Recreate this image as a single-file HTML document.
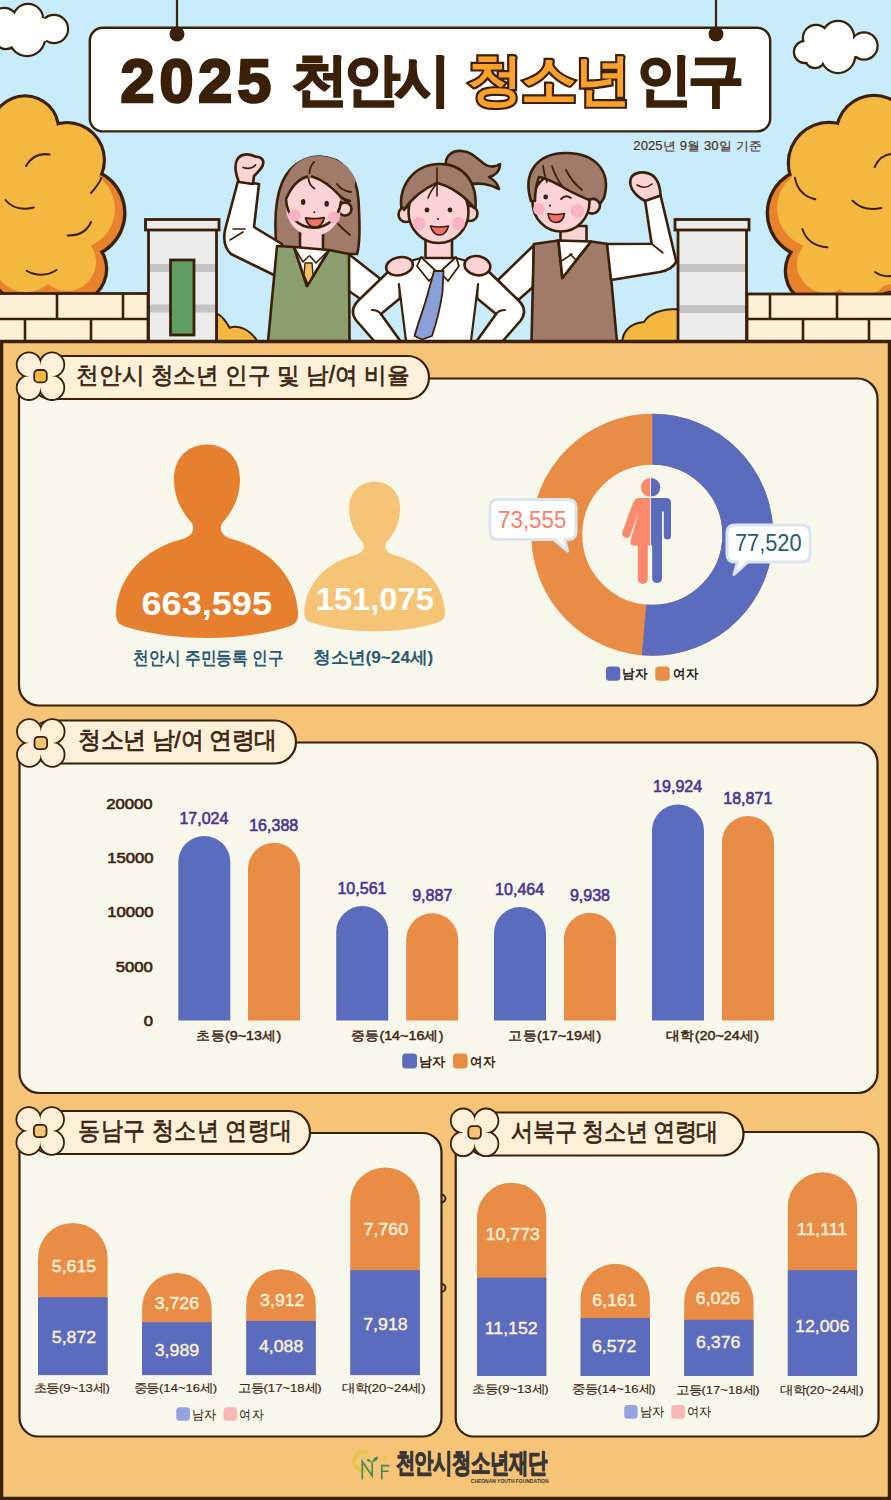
<!DOCTYPE html>
<html><head><meta charset="utf-8">
<style>
*{margin:0;padding:0;box-sizing:border-box}
html,body{width:891px;height:1500px;overflow:hidden;background:#f5c477}
body{position:relative;font-family:"Liberation Sans",sans-serif;color:#3d2410}
svg{position:absolute;left:0;top:0}
.t{position:absolute;white-space:nowrap;line-height:1}
.tab{font-size:22px;color:#3d2410}
.val{font-size:16px;color:#4b3f8f;font-weight:bold}
.cat{font-size:14px;color:#3d2410}
.yl{font-size:14px;color:#3d2410;font-weight:bold;text-align:right;width:60px}
.in{font-size:17px;color:#fdf1da;text-align:center}
.lg{font-size:14px;color:#3d2410}
</style></head><body>
<svg width="891" height="1500" viewBox="0 0 891 1500">
<!-- SKY -->
<rect x="0" y="0" width="891" height="342" fill="#c9ecfd"/>
<!-- clouds -->
<g stroke="#3b2008" stroke-width="4.4" fill="#3b2008">
<circle cx="4" cy="22" r="13"/><circle cx="28" cy="19" r="14"/><circle cx="54" cy="29" r="13"/><circle cx="27" cy="38" r="17"/><circle cx="6" cy="38" r="10"/>
<circle cx="805" cy="52" r="10"/><circle cx="816" cy="38" r="12"/><circle cx="838" cy="37" r="15"/><circle cx="864" cy="46" r="12.5"/><circle cx="838" cy="56" r="16"/><circle cx="815" cy="58" r="9"/>
</g>
<g fill="#ffffff">
<circle cx="4" cy="22" r="13"/><circle cx="28" cy="19" r="14"/><circle cx="54" cy="29" r="13"/><circle cx="27" cy="38" r="17"/><circle cx="6" cy="38" r="10"/><ellipse cx="30" cy="30" rx="24" ry="14"/>
<circle cx="805" cy="52" r="10"/><circle cx="816" cy="38" r="12"/><circle cx="838" cy="37" r="15"/><circle cx="864" cy="46" r="12.5"/><circle cx="838" cy="56" r="16"/><circle cx="815" cy="58" r="9"/><ellipse cx="836" cy="48" rx="26" ry="12"/>
</g>
<!-- left tree -->
<g fill="#3b2008">
<circle cx="25" cy="129.5" r="35.3"/><circle cx="67" cy="160" r="39"/><circle cx="80" cy="213" r="46.5"/><circle cx="73" cy="269" r="35.3"/><circle cx="20" cy="200" r="70"/><circle cx="30" cy="265" r="40"/>
</g>
<g fill="#e8832c">
<circle cx="25" cy="129.5" r="32"/><circle cx="67" cy="160" r="35.7"/><circle cx="80" cy="213" r="43.2"/><circle cx="73" cy="269" r="32"/><circle cx="20" cy="200" r="68"/><circle cx="30" cy="265" r="38"/>
</g>
<g fill="#f4b740">
<circle cx="25" cy="129.5" r="32"/><circle cx="67" cy="160" r="35.7"/><circle cx="75" cy="209" r="40"/><circle cx="67" cy="262" r="29"/><circle cx="18" cy="198" r="66"/><circle cx="26" cy="258" r="34"/>
</g>
<g fill="none" stroke="#3b2008" stroke-width="2" stroke-linecap="round">
<path d="M26 166 Q34 152 49.5 154.5"/><path d="M5.5 200 Q15 212 33.8 207.5"/><path d="M67.6 235.4 Q85 236 91 222"/><path d="M26.7 270.8 Q42 279 56.6 270"/><path d="M91 193 Q99 184 101.4 178"/>
</g>
<!-- right tree -->
<g fill="#3b2008">
<circle cx="874" cy="133" r="39.3"/><circle cx="829" cy="163" r="42.3"/><circle cx="812" cy="213" r="46.3"/><circle cx="820" cy="271" r="36.3"/><circle cx="872" cy="220" r="75"/><circle cx="855" cy="268" r="40"/>
</g>
<g fill="#e8832c">
<circle cx="874" cy="133" r="36"/><circle cx="829" cy="163" r="39"/><circle cx="812" cy="213" r="43"/><circle cx="820" cy="271" r="33"/><circle cx="872" cy="220" r="73"/><circle cx="855" cy="268" r="38"/>
</g>
<g fill="#f4b740">
<circle cx="874" cy="133" r="36"/><circle cx="829" cy="163" r="39"/><circle cx="817" cy="208" r="40"/><circle cx="826" cy="264" r="29"/><circle cx="875" cy="215" r="71"/><circle cx="860" cy="262" r="34"/>
</g>
<g fill="none" stroke="#3b2008" stroke-width="2" stroke-linecap="round">
<path d="M874.6 167 Q880 155 891 154"/><path d="M795 177.8 Q798 195 815.3 199.3"/><path d="M852.5 200.7 Q864 212 881.3 208"/><path d="M802.4 229 Q808 246 827.4 247.3"/><path d="M875.1 272 Q882 277 891 276"/>
</g>
<!-- small bushes -->
<g fill="#f4b740" stroke="#3b2008" stroke-width="2">
<path d="M217 313.6 C222 316 226 321 229.6 327.7 C238 325 249 328 258 342 L217 342 Z"/>
<path d="M622 342 Q624 324 644 322 Q652 309 678 309 L678 342 Z"/>
</g>
<!-- walls -->
<g fill="#fef0d6" stroke="#3b2008" stroke-width="2.8">
<rect x="-2" y="293.5" width="150" height="48"/>
<rect x="747" y="294" width="146" height="48"/>
</g>
<g stroke="#3b2008" stroke-width="2.6">
<line x1="0" y1="319" x2="148" y2="319"/><line x1="57" y1="294" x2="57" y2="319"/><line x1="123" y1="294" x2="123" y2="319"/><line x1="25" y1="319" x2="25" y2="341"/><line x1="91" y1="319" x2="91" y2="341"/>
<line x1="747" y1="319" x2="891" y2="319"/><line x1="770" y1="294" x2="770" y2="319"/><line x1="837" y1="294" x2="837" y2="319"/><line x1="803" y1="319" x2="803" y2="341"/><line x1="869" y1="319" x2="869" y2="341"/>
</g>
<!-- pillars -->
<rect x="148.5" y="228" width="68" height="115" fill="#ececec"/>
<rect x="678" y="228" width="68.5" height="115" fill="#ececec"/>
<g fill="#c4c4c4">
<rect x="148.5" y="264" width="68" height="8"/><rect x="148.5" y="304.5" width="68" height="8"/>
<rect x="678" y="264" width="68.5" height="8"/><rect x="678" y="305" width="68.5" height="8"/>
</g>
<g stroke="#3b2008" stroke-width="2.8" fill="none">
<rect x="148.5" y="228" width="68" height="115"/>
<rect x="678" y="228" width="68.5" height="115"/>
</g>
<g stroke="#3b2008" stroke-width="2.8" fill="#ececec">
<rect x="145.5" y="219.5" width="73.5" height="10.5"/>
<rect x="675" y="219.5" width="74" height="10.5"/>
</g>
<rect x="170.5" y="260" width="23.5" height="75" fill="#5e9e62" stroke="#3b2008" stroke-width="2.8"/>
<!-- characters -->
<g stroke="#3b2008" stroke-width="2.6" stroke-linejoin="round" stroke-linecap="round">
<!-- girl1 arm behind middle -->
<path d="M346 252 L387 284 L362 300 L346 289 Z" fill="#ffffff"/>
<!-- boy arm behind middle -->
<path d="M534 245 L498 280 L516 302 L533 287 Z" fill="#ffffff"/>
<!-- girl1 hair back -->
<path d="M277 254 C273 215 276 185 290 170 C300 159 312 156.5 320 156.5 C341 157 357 173 358.5 200 C360 225 360 245 357 254 Z" fill="#a07b6a"/>
<!-- girl1 raised arm -->
<path d="M238 181 L259 184 L254 227 L282 244 L276 276 L231 254 Q222 246 225 230 Z" fill="#ffffff"/>
<path d="M239 182 C236 176 234 166 237 160 C240 154 248 153 254 156 C257 157.5 261 156 263 160.5 C265 166 258 172 254 176 L253 184 Z" fill="#fdd3d6"/>
<path d="M243 167.5 Q251 170 255.5 165" fill="none" stroke-width="1.8"/>
<path d="M233 229 L245 229 M230 240 L243 232" fill="none" stroke-width="1.6"/>
<!-- girl1 neck, vest -->
<rect x="300" y="232" width="23" height="18" fill="#fdd3d6"/>
<path d="M277 246 L294 247 L307 286 L329 250 L349 254 L349.5 342 L268 342 Z" fill="#8a9e6e"/>
<path d="M294 247 L329 250 L307 286 Z" fill="#ffffff"/>
<path d="M294 247 L303 262 L309 256 M329 250 L316 263 L310 256" fill="none" stroke-width="1.6"/>
<path d="M305 263 L312 263 L313 275 L308 284 L304 275 Z" fill="#f2c060" stroke-width="1.4"/>
<!-- girl1 face -->
<circle cx="345" cy="209" r="6.5" fill="#fdd3d6"/>
<ellipse cx="313.5" cy="207" rx="27.5" ry="29" fill="#fdd3d6" stroke="none"/><path d="M286.1 200 A27.5 29 0 0 0 340.9 202" fill="none"/>
<path d="M284 200 C286 185 296 176 307 176.5 L312 176.5 C325 180 340 190 350 201 L356 180 C348 163 334 156 318 156 C300 156 287 168 283 190 Z" fill="#a07b6a" stroke="none"/>
<path d="M286.5 198 C291 188 298 179 307 176.5 M312 176.5 C323 180 333 188 340 196 C343 199 346 200.5 350 201" fill="none"/>
<path d="M314 162 Q309.5 167 309.5 173 M308.5 178.5 Q309 185 314.5 188.5 M337 184 Q342 191 351 192 M338 224 Q344 230 350 235" fill="none" stroke-width="1.8"/>
<ellipse cx="303.2" cy="202" rx="2.2" ry="3" fill="#3b2008" stroke="none"/><ellipse cx="326.7" cy="203.7" rx="2.2" ry="3" fill="#3b2008" stroke="none"/>
<circle cx="314.3" cy="212.3" r="1" fill="#3b2008" stroke="none"/>
<circle cx="294.6" cy="215.4" r="6" fill="#f9b3c2" stroke="none"/><circle cx="334" cy="217.3" r="6" fill="#f9b3c2" stroke="none"/>
<path d="M305.5 218 Q315 219.5 324.2 217.7 Q322 227.2 315 227.2 Q308 227.2 305.5 218 Z" fill="#f2706c" stroke-width="1.8"/>
<!-- middle girl ponytail + hair -->
<path d="M446 168 C444 156 452 150 462 151 C473 152 478 160 486 165 C491 168 497 166 500 164 C500 172 494 176 489 177 C494 180 498 184 499 189 C490 184 478 182 468 185 Z" fill="#a07b6a"/>
<path d="M402 212 C397 186 414 165 438 164 C463 163 479 182 475 212 Z" fill="#a07b6a"/>
<!-- middle girl shirt -->
<path d="M391 269 L359.4 299.5 Q348 310 356.7 321 L375 342 L401 342 L380.9 313.9 L399.8 298.6 L400 280 Z" fill="#ffffff"/>
<path d="M486 269 L517.6 299.5 Q529 310 520.3 321 L502 342 L476 342 L496.1 313.9 L477.2 298.6 L477 280 Z" fill="#ffffff"/>
<path d="M388 268 L421 257 L456 257 L489 268 L478.1 284.2 L471 342 L406 342 L398.9 284.2 Z" fill="#ffffff" stroke="none"/>
<path d="M398.9 284.2 L406 341 M478.1 284.2 L471 341 M372 310 Q378 310 381 314 M505 310 Q499 310 496 314 M410 261 L423 257.5 M454 257.5 L467 261" fill="none" stroke-width="2.2"/>
<rect x="425.5" y="238" width="26.5" height="20" fill="#fdd3d6"/>
<path d="M421 257 L437 272 L429 281 L417 266 Z M456 257 L440 272 L448 281 L459 266 Z" fill="#ffffff" stroke-width="1.8"/>
<path d="M434 271 L443.5 271 L442.5 292 C440 310 436 324 432 336 L422 339.5 L414.5 336 C419 320 425 305 428.5 291 Z" fill="#8a9fd8" stroke-width="1.8"/>
<!-- middle face -->
<circle cx="406" cy="214.5" r="7.5" fill="#fdd3d6"/><circle cx="470" cy="213.5" r="7.5" fill="#fdd3d6"/>
<ellipse cx="438.5" cy="212" rx="30" ry="31" fill="#fdd3d6"/>
<path d="M404 210 C402 186 418 168 438 167 C458 167 475 184 474 208 C465 196 450 186 437 183 C425 188 412 198 404 210 Z" fill="#a07b6a" stroke="none"/><path d="M474 208 C465 196 450 186 437 183 C425 188 412 198 404 210" fill="none"/>
<path d="M437 168 L437 196 M437 183 Q430 192 428 198" fill="none" stroke-width="1.6"/>
<circle cx="427" cy="210" r="2.4" fill="#3b2008" stroke="none"/><circle cx="450" cy="210" r="2.4" fill="#3b2008" stroke="none"/>
<circle cx="438" cy="219" r="1.1" fill="#3b2008" stroke="none"/>
<circle cx="419" cy="223.6" r="6.5" fill="#f9b3c2" stroke="none"/><circle cx="458.4" cy="223.6" r="6.5" fill="#f9b3c2" stroke="none"/>
<path d="M430.5 226 Q439.5 228 448.5 226 Q446 235 439.5 235 Q433 235 430.5 226 Z" fill="#f2706c" stroke-width="1.6"/>
<!-- boy body -->
<rect x="560.5" y="226" width="26" height="19" fill="#fdd3d6"/>
<path d="M533.8 244 L558.5 240.5 L562.3 278 L591 241.5 L608 244 L617 342 L531.5 342 Z" fill="#a07b6a"/>
<path d="M558.5 240.5 L591 241.5 L562.3 278 Z" fill="#ffffff"/>
<path d="M558 241 L560 262 L572 254 M591 241.5 L576 260 L570 254" fill="none" stroke-width="1.6"/>
<!-- boy raised arm -->
<path d="M607 244 L651.6 243.8 L645 200 L660.6 195.5 L676.3 261.7 Q672 270 660 272 L611 280 Z" fill="#ffffff"/>
<path d="M651.6 243.8 L662.8 252.7" fill="none" stroke-width="1.8"/>
<path d="M645 201 C634 195 628 186 631 178 C634 172 644 171 650 174 C657 177 660 186 660.6 195.5 Z" fill="#fdd3d6"/>
<path d="M637 185 Q645 190 652 184" fill="none" stroke-width="1.6"/>
<!-- boy face -->
<circle cx="592" cy="205.6" r="8" fill="#fdd3d6"/>
<ellipse cx="561" cy="202" rx="28.5" ry="29.5" fill="#fdd3d6"/>
<path d="M531 201 C522 172 538 153 566 153 C594 153 612 170 604 198 L600 204 C597 199 593 198 589 200 C580 196 570 192 561 186 C553 182 546 178 539 177 C536 185 535 192 535 201 Z" fill="#a07b6a"/>
<path d="M543 166 Q544 174 547 182 M552 166 Q555 176 562 186 M566 170 Q572 182 582 190" fill="none" stroke-width="1.8"/>
<circle cx="545.7" cy="197" r="2.4" fill="#3b2008" stroke="none"/>
<path d="M561 199 Q566 194 571 198" fill="none" stroke-width="1.8"/>
<circle cx="550" cy="205.6" r="1.1" fill="#3b2008" stroke="none"/>
<circle cx="539" cy="209" r="6" fill="#f9b3c2" stroke="none"/><circle cx="577.5" cy="211" r="7" fill="#f9b3c2" stroke="none"/>
<path d="M548 213.5 Q556 215.5 564.5 213.5 Q563 222.5 556 222.5 Q549 222.5 548 213.5 Z" fill="#f2706c" stroke-width="1.6"/>
<!-- hands on shoulders -->
<ellipse cx="399.5" cy="266.2" rx="13.5" ry="9" transform="rotate(-12 399.5 266.2)" fill="#fdd3d6"/>
<ellipse cx="477.4" cy="265.7" rx="13" ry="9.5" transform="rotate(10 477.4 265.7)" fill="#fdd3d6"/>
</g>
<!-- banner -->
<g stroke="#3b2008">
<line x1="177" y1="0" x2="177" y2="30" stroke-width="2.2"/>
<line x1="716" y1="0" x2="716" y2="30" stroke-width="2.2"/>
<rect x="89.8" y="27.8" width="680.4" height="103.6" rx="13" fill="#ffffff" stroke-width="2.4"/>
</g>
<circle cx="177" cy="34" r="7.5" fill="#3b2008"/>
<circle cx="716" cy="34" r="7.5" fill="#3b2008"/>

<!-- MAIN ORANGE -->
<rect x="1.5" y="341.5" width="888" height="1157" fill="#f5c477" stroke="#3b2008" stroke-width="3.5"/>
<!-- PANELS -->
<g fill="#f8f7ec" stroke="#3b2008" stroke-width="2.2">
<rect x="19" y="378.5" width="858.5" height="327" rx="20"/>
<rect x="19.5" y="742.5" width="858" height="350.5" rx="20"/>
<rect x="19.5" y="1133" width="422" height="303.5" rx="19"/>
<rect x="455.7" y="1132" width="422.8" height="304.5" rx="18"/>
</g>
<path d="M441.6 1194.8 A3.8 3.8 0 0 1 441.6 1202.4 M441.6 1284.1 A3.8 3.8 0 0 1 441.6 1291.7" fill="none" stroke="#3b2008" stroke-width="2"/>
<!-- TABS -->
<g fill="#fff1d9" stroke="#3b2008" stroke-width="2.2">
<rect x="30" y="356" width="399" height="43" rx="21.5"/>
<rect x="30" y="720.5" width="266" height="43" rx="21.5"/>
<rect x="30" y="1111" width="280" height="43" rx="21.5"/>
<rect x="465" y="1112.5" width="278.5" height="43" rx="21.5"/>
</g>
<!-- FLOWERS -->
<defs>
<g id="flw">
<g fill="#3b2008"><circle cx="-11.5" cy="-11.5" r="13.2"/><circle cx="11.5" cy="-11.5" r="13.2"/><circle cx="-11.5" cy="11.5" r="13.2"/><circle cx="11.5" cy="11.5" r="13.2"/></g>
<g fill="#fff1d9"><circle cx="-11.5" cy="-11.5" r="11.4"/><circle cx="11.5" cy="-11.5" r="11.4"/><circle cx="-11.5" cy="11.5" r="11.4"/><circle cx="11.5" cy="11.5" r="11.4"/><rect x="-11.5" y="-11.5" width="23" height="23"/></g>
</g>
</defs>
<use href="#flw" x="40.5" y="376.2"/>
<use href="#flw" x="40.8" y="743"/>
<use href="#flw" x="40.2" y="1131"/>
<use href="#flw" x="474.6" y="1132.3"/>
<rect x="34.2" y="370.0" width="12.6" height="12.4" rx="4" fill="#f5b942" stroke="#3b2008" stroke-width="1.8"/><rect x="34.5" y="736.8" width="12.6" height="12.4" rx="4" fill="#f5c475" stroke="#3b2008" stroke-width="1.8"/><rect x="33.9" y="1124.8" width="12.6" height="12.4" rx="4" fill="#f5c475" stroke="#3b2008" stroke-width="1.8"/><rect x="468.3" y="1126.1" width="12.6" height="12.4" rx="4" fill="#f5c475" stroke="#3b2008" stroke-width="1.8"/>
<!-- SECTION1 -->
<defs>
<path id="sil" d="M207 444.6 C226 444.6 240 458 240 479 C240 500 230 514 223 522 C219 527 220 535 230 538.5 C272 549 296 578 298 612 C298.5 621 296 624 289 626.5 C262 635 232 638 207 638 C182 638 152 635 125 626.5 C118 624 115.5 621 116 612 C118 578 142 549 184 538.5 C194 535 195 527 191 522 C184 514 174 500 174 479 C174 458 188 444.6 207 444.6 Z"/>
</defs>
<use href="#sil" fill="#e67f2e"/>
<use href="#sil" fill="#f5c476" transform="translate(374.6 481.8) scale(0.773) translate(-207 -444.6)"/>
<circle cx="652.3" cy="534.7" r="95.5" fill="none" stroke="#e98c45" stroke-width="51"/>
<circle cx="652.3" cy="534.7" r="95.5" fill="none" stroke="#5b6bbd" stroke-width="51" stroke-dasharray="307.9 700" transform="rotate(-90 652.3 534.7)"/>
<!-- gender icon -->
<path d="M650.2 478 A9.3 9.3 0 0 0 650.2 496.6 Z" fill="#fb8a6c"/>
<path d="M651 478 A9.3 9.3 0 0 1 651 496.6 Z" fill="#5b6bbd"/>
<path d="M650.2 498 L639 498 Q634.5 498 633 503 L622.5 531.5 Q621 536 625 537.5 Q629 539 630.5 534.5 L638.6 511.5 L630.5 541.5 Q630 545.6 634 545.6 L637.8 545.6 L637.8 579 A5 5 0 0 0 647.8 579 L647.8 545.6 L650.2 545.6 Z" fill="#fb8a6c"/>
<path d="M651 498 L666 498 Q671 498 671 503 L671 536 A3.6 3.6 0 0 1 663.8 536 L663.8 511.6 L662 511.6 L662 579 A5 5 0 0 1 652.2 579 L652.2 545.6 L651 545.6 Z" fill="#5b6bbd"/>
<!-- bubbles -->
<g fill="#ffffff" stroke="#dbe5ee" stroke-width="3" stroke-linejoin="round">
<path d="M498 499.5 L568 499.5 Q576 499.5 576 507.5 L576 531.5 Q576 539.5 568 539.5 L565 539.5 L567.5 551 L554 539.5 L498 539.5 Q490 539.5 490 531.5 L490 507.5 Q490 499.5 498 499.5 Z"/>
<path d="M735 525 L802 525 Q810 525 810 533 L810 554 Q810 562 802 562 L748 562 L734 574.5 L737.5 562 L735 562 Q727 562 727 554 L727 533 Q727 525 735 525 Z"/>
</g>
<!-- legend s1 -->
<rect x="606" y="666.5" width="14.3" height="14.2" rx="3.5" fill="#5b6bbd"/>
<rect x="655.3" y="666.5" width="14.4" height="14.2" rx="3.5" fill="#e98c45"/>
<!-- BARS --><path d="M178.3 1020.5 L178.3 861.96 A26.0 26.0 0 0 1 230.3 861.96 L230.3 1020.5 Z" fill="#5b6bbd"/>
<path d="M248 1020.5 L248 868.85 A26.0 26.0 0 0 1 300 868.85 L300 1020.5 Z" fill="#e98c45"/>
<path d="M336.2 1020.5 L336.2 932.02 A26.0 26.0 0 0 1 388.2 932.02 L388.2 1020.5 Z" fill="#5b6bbd"/>
<path d="M406.2 1020.5 L406.2 939.32 A26.0 26.0 0 0 1 458.2 939.32 L458.2 1020.5 Z" fill="#e98c45"/>
<path d="M494 1020.5 L494 933.07 A26.0 26.0 0 0 1 546 933.07 L546 1020.5 Z" fill="#5b6bbd"/>
<path d="M564 1020.5 L564 938.77 A26.0 26.0 0 0 1 616 938.77 L616 1020.5 Z" fill="#e98c45"/>
<path d="M652 1020.5 L652 830.52 A26.0 26.0 0 0 1 704 830.52 L704 1020.5 Z" fill="#5b6bbd"/>
<path d="M722 1020.5 L722 841.94 A26.0 26.0 0 0 1 774 841.94 L774 1020.5 Z" fill="#e98c45"/>
<path d="M38 1375.1 L38 1257.72 A34.8 34.8 0 0 1 107.6 1257.72 L107.6 1375.1 Z" fill="#e98c45"/>
<rect x="38" y="1297.31" width="69.6" height="77.79" fill="#5b6bbd"/>
<path d="M142.1 1375.1 L142.1 1307.69 A34.8 34.8 0 0 1 211.7 1307.69 L211.7 1375.1 Z" fill="#e98c45"/>
<rect x="142.1" y="1322.25" width="69.6" height="52.85" fill="#5b6bbd"/>
<path d="M246.2 1375.1 L246.2 1303.92 A34.8 34.8 0 0 1 315.79999999999995 1303.92 L315.79999999999995 1375.1 Z" fill="#e98c45"/>
<rect x="246.2" y="1320.94" width="69.6" height="54.16" fill="#5b6bbd"/>
<path d="M350.3 1375.1 L350.3 1202.20 A34.8 34.8 0 0 1 419.9 1202.20 L419.9 1375.1 Z" fill="#e98c45"/>
<rect x="350.3" y="1270.20" width="69.6" height="104.90" fill="#5b6bbd"/>
<path d="M477 1376 L477 1217.38 A34.65 34.65 0 0 1 546.3 1217.38 L546.3 1376 Z" fill="#e98c45"/>
<rect x="477" y="1277.70" width="69.3" height="98.30" fill="#5b6bbd"/>
<path d="M580.6 1376 L580.6 1298.41 A34.65 34.65 0 0 1 649.9 1298.41 L649.9 1376 Z" fill="#e98c45"/>
<rect x="580.6" y="1318.07" width="69.3" height="57.93" fill="#5b6bbd"/>
<path d="M684.2 1376 L684.2 1301.33 A34.65 34.65 0 0 1 753.5 1301.33 L753.5 1376 Z" fill="#e98c45"/>
<rect x="684.2" y="1319.80" width="69.3" height="56.20" fill="#5b6bbd"/>
<path d="M787.8 1376 L787.8 1206.87 A34.65 34.65 0 0 1 857.0999999999999 1206.87 L857.0999999999999 1376 Z" fill="#e98c45"/>
<rect x="787.8" y="1270.17" width="69.3" height="105.83" fill="#5b6bbd"/>
<rect x="402.2" y="1053.6" width="14.8" height="14.8" rx="3.5" fill="#5b6bbd"/>
<rect x="453" y="1053.6" width="14.6" height="14.8" rx="3.5" fill="#e98c45"/>
<rect x="176.2" y="1407.3" width="13.8" height="13.5" rx="3.5" fill="#97a3df"/>
<rect x="223.6" y="1407.3" width="13.5" height="13.5" rx="3.5" fill="#f8b8b5"/>
<rect x="624.2" y="1405" width="13.4" height="13.8" rx="3.5" fill="#97a3df"/>
<rect x="671.3" y="1405" width="13.8" height="13.8" rx="3.5" fill="#f8b8b5"/>
<g fill="none" stroke-linecap="butt">
<path d="M368 1452.9 A9.5 9.5 0 1 0 368 1469.7" stroke="#e8c54a" stroke-width="4"/>
<path d="M362.3 1479.5 L362.3 1461.5 L372.2 1476 L372.2 1462" stroke="#3e8c4e" stroke-width="1.6"/>
<path d="M381.8 1479.5 L381.8 1465.6 L389.5 1465.6 M381.8 1471.2 L388.5 1471.2" stroke="#3e8c4e" stroke-width="1.6"/>
</g>
<path d="M372.5 1462 Q373 1457 378 1456.5 Q378 1461 372.5 1462 Z M372 1462 Q369 1458 366.5 1459.5 Q368 1462.5 372 1462 Z" fill="#3e8c4e"/>
<circle cx="385" cy="1458" r="2.2" fill="#e8c54a"/><!-- /BARS -->
<!-- CHARTS -->
</svg>
<div class="t" id="ti1" style="left:120.5px;top:50.5px;font-size:61px;font-weight:bold;color:#3b2008;-webkit-text-stroke:2.6px #3b2008;letter-spacing:5px">2025</div>
<div class="t" id="ti2" style="left:292px;top:52px;font-size:56px;font-weight:bold;color:#3b2008;-webkit-text-stroke:2.2px #3b2008;letter-spacing:-4.3px">천안시</div>
<div class="t" id="ti3" style="left:467px;top:52px;font-size:56px;font-weight:bold;color:#fca22c;-webkit-text-stroke:4.4px #3b2008;paint-order:stroke fill;letter-spacing:-2px">청소년</div>
<div class="t" id="ti4" style="left:636px;top:52px;font-size:56px;font-weight:bold;color:#3b2008;-webkit-text-stroke:2.2px #3b2008;letter-spacing:-4.5px">인구</div>
<svg width="891" height="1500" style="position:absolute;left:0;top:0" font-family="Liberation Sans, sans-serif"><!-- TEXTSVG --><text transform="translate(633.34 150.35) scale(1.067 1)" font-size="12.33" font-weight="normal" fill="#4a2e14" stroke="#4a2e14" stroke-width="0.15">2025년 9월 30일 기준</text>
<text transform="translate(76.04 383.31) scale(0.980 1)" font-size="23.08" font-weight="normal" fill="#3d2410" stroke="#3d2410" stroke-width="0.7">천안시 청소년 인구 및 남/여 비율</text>
<text transform="translate(78.04 747.60) scale(0.957 1)" font-size="23.74" font-weight="normal" fill="#3d2410" stroke="#3d2410" stroke-width="0.7">청소년 남/여 연령대</text>
<text transform="translate(78.26 1139.01) scale(0.882 1)" font-size="24.95" font-weight="normal" fill="#3d2410" stroke="#3d2410" stroke-width="0.7">동남구 청소년 연령대</text>
<text transform="translate(511.44 1139.76) scale(0.889 1)" font-size="24.62" font-weight="normal" fill="#3d2410" stroke="#3d2410" stroke-width="0.7">서북구 청소년 연령대</text>
<text transform="translate(141.52 614.87) scale(1.086 1)" font-size="33.24" font-weight="bold" fill="#ffffff">663,595</text>
<text transform="translate(315.74 609.88) scale(1.013 1)" font-size="32.25" font-weight="bold" fill="#ffffff">151,075</text>
<text transform="translate(133.24 663.88) scale(0.868 1)" font-size="17.77" font-weight="bold" fill="#2b5872">천안시 주민등록 인구</text>
<text transform="translate(313.38 663.03) scale(1.044 1)" font-size="16.53" font-weight="bold" fill="#2b5872">청소년(9~24세)</text>
<text transform="translate(497.88 527.75) scale(0.907 1)" font-size="24.79" font-weight="normal" fill="#f4836a">73,555</text>
<text transform="translate(734.91 551.15) scale(0.890 1)" font-size="24.51" font-weight="normal" fill="#2b5a72">77,520</text>
<text transform="translate(622.34 677.79) scale(0.969 1)" font-size="12.98" font-weight="bold" fill="#222222">남자</text>
<text transform="translate(672.92 677.90) scale(0.956 1)" font-size="13.12" font-weight="bold" fill="#222222">여자</text>
<text transform="translate(106.20 808.86) scale(1.182 1)" font-size="14.08" font-weight="normal" fill="#3d2410" stroke="#3d2410" stroke-width="0.6">20000</text>
<text transform="translate(107.28 862.71) scale(1.182 1)" font-size="14.08" font-weight="normal" fill="#3d2410" stroke="#3d2410" stroke-width="0.6">15000</text>
<text transform="translate(107.13 916.61) scale(1.182 1)" font-size="14.08" font-weight="normal" fill="#3d2410" stroke="#3d2410" stroke-width="0.6">10000</text>
<text transform="translate(115.66 971.66) scale(1.182 1)" font-size="14.08" font-weight="normal" fill="#3d2410" stroke="#3d2410" stroke-width="0.6">5000</text>
<text transform="translate(143.72 1025.86) scale(1.182 1)" font-size="14.08" font-weight="normal" fill="#3d2410" stroke="#3d2410" stroke-width="0.6">0</text>
<text transform="translate(179.39 823.80) scale(1.000 1)" font-size="16.06" font-weight="normal" fill="#4a3591" stroke="#4a3591" stroke-width="0.6">17,024</text>
<text transform="translate(249.17 830.69) scale(1.000 1)" font-size="16.06" font-weight="normal" fill="#4a3591" stroke="#4a3591" stroke-width="0.6">16,388</text>
<text transform="translate(337.45 893.86) scale(1.000 1)" font-size="16.06" font-weight="normal" fill="#4a3591" stroke="#4a3591" stroke-width="0.6">10,561</text>
<text transform="translate(412.16 901.16) scale(1.000 1)" font-size="16.06" font-weight="normal" fill="#4a3591" stroke="#4a3591" stroke-width="0.6">9,887</text>
<text transform="translate(495.09 894.91) scale(1.000 1)" font-size="16.06" font-weight="normal" fill="#4a3591" stroke="#4a3591" stroke-width="0.6">10,464</text>
<text transform="translate(569.88 900.61) scale(1.000 1)" font-size="16.06" font-weight="normal" fill="#4a3591" stroke="#4a3591" stroke-width="0.6">9,938</text>
<text transform="translate(653.09 792.36) scale(1.000 1)" font-size="16.06" font-weight="normal" fill="#4a3591" stroke="#4a3591" stroke-width="0.6">19,924</text>
<text transform="translate(723.25 803.78) scale(1.000 1)" font-size="16.06" font-weight="normal" fill="#4a3591" stroke="#4a3591" stroke-width="0.6">18,871</text>
<text transform="translate(196.15 1039.98) scale(1.066 1)" font-size="13.44" font-weight="normal" fill="#3d2410" stroke="#3d2410" stroke-width="0.45">초등(9~13세)</text>
<text transform="translate(350.51 1039.98) scale(1.066 1)" font-size="13.44" font-weight="normal" fill="#3d2410" stroke="#3d2410" stroke-width="0.45">중등(14~16세)</text>
<text transform="translate(508.11 1039.98) scale(1.066 1)" font-size="13.44" font-weight="normal" fill="#3d2410" stroke="#3d2410" stroke-width="0.45">고등(17~19세)</text>
<text transform="translate(665.91 1039.98) scale(1.066 1)" font-size="13.44" font-weight="normal" fill="#3d2410" stroke="#3d2410" stroke-width="0.45">대학(20~24세)</text>
<text transform="translate(418.97 1065.56) scale(1.009 1)" font-size="13.19" font-weight="bold" fill="#3d2410">남자</text>
<text transform="translate(470.00 1065.67) scale(0.960 1)" font-size="13.33" font-weight="bold" fill="#3d2410">여자</text>
<text transform="translate(51.82 1272.39) scale(1.086 1)" font-size="16.34" font-weight="normal" fill="#fdf1da" stroke="#fdf1da" stroke-width="0.4">5,615</text>
<text transform="translate(51.81 1342.79) scale(1.086 1)" font-size="16.34" font-weight="normal" fill="#fdf1da" stroke="#fdf1da" stroke-width="0.4">5,872</text>
<text transform="translate(154.66 1308.84) scale(1.086 1)" font-size="16.34" font-weight="normal" fill="#fdf1da" stroke="#fdf1da" stroke-width="0.4">3,726</text>
<text transform="translate(154.75 1356.39) scale(1.086 1)" font-size="16.34" font-weight="normal" fill="#fdf1da" stroke="#fdf1da" stroke-width="0.4">3,989</text>
<text transform="translate(260.10 1306.49) scale(1.086 1)" font-size="16.34" font-weight="normal" fill="#fdf1da" stroke="#fdf1da" stroke-width="0.4">3,912</text>
<text transform="translate(258.95 1351.84) scale(1.086 1)" font-size="16.34" font-weight="normal" fill="#fdf1da" stroke="#fdf1da" stroke-width="0.4">4,088</text>
<text transform="translate(363.63 1234.54) scale(1.086 1)" font-size="16.34" font-weight="normal" fill="#fdf1da" stroke="#fdf1da" stroke-width="0.4">7,760</text>
<text transform="translate(363.23 1330.49) scale(1.086 1)" font-size="16.34" font-weight="normal" fill="#fdf1da" stroke="#fdf1da" stroke-width="0.4">7,918</text>
<text transform="translate(485.72 1239.84) scale(1.086 1)" font-size="16.34" font-weight="normal" fill="#fdf1da" stroke="#fdf1da" stroke-width="0.4">10,773</text>
<text transform="translate(484.72 1333.94) scale(1.086 1)" font-size="16.34" font-weight="normal" fill="#fdf1da" stroke="#fdf1da" stroke-width="0.4">11,152</text>
<text transform="translate(592.37 1306.09) scale(1.086 1)" font-size="16.34" font-weight="normal" fill="#fdf1da" stroke="#fdf1da" stroke-width="0.4">6,161</text>
<text transform="translate(591.92 1351.84) scale(1.086 1)" font-size="16.34" font-weight="normal" fill="#fdf1da" stroke="#fdf1da" stroke-width="0.4">6,572</text>
<text transform="translate(695.83 1304.14) scale(1.086 1)" font-size="16.34" font-weight="normal" fill="#fdf1da" stroke="#fdf1da" stroke-width="0.4">6,026</text>
<text transform="translate(696.08 1347.84) scale(1.086 1)" font-size="16.34" font-weight="normal" fill="#fdf1da" stroke="#fdf1da" stroke-width="0.4">6,376</text>
<text transform="translate(796.83 1235.04) scale(1.086 1)" font-size="16.34" font-weight="normal" fill="#fdf1da" stroke="#fdf1da" stroke-width="0.4">11,111</text>
<text transform="translate(795.02 1332.19) scale(1.086 1)" font-size="16.34" font-weight="normal" fill="#fdf1da" stroke="#fdf1da" stroke-width="0.4">12,006</text>
<text transform="translate(33.54 1392.19) scale(1.125 1)" font-size="11.64" font-weight="normal" fill="#3d2410" stroke="#3d2410" stroke-width="0.15">초등(9~13세)</text>
<text transform="translate(133.65 1392.19) scale(1.125 1)" font-size="11.64" font-weight="normal" fill="#3d2410" stroke="#3d2410" stroke-width="0.15">중등(14~16세)</text>
<text transform="translate(238.15 1392.34) scale(1.125 1)" font-size="11.64" font-weight="normal" fill="#3d2410" stroke="#3d2410" stroke-width="0.15">고등(17~18세)</text>
<text transform="translate(342.03 1392.34) scale(1.125 1)" font-size="11.64" font-weight="normal" fill="#3d2410" stroke="#3d2410" stroke-width="0.15">대학(20~24세)</text>
<text transform="translate(472.44 1393.49) scale(1.125 1)" font-size="11.64" font-weight="normal" fill="#3d2410" stroke="#3d2410" stroke-width="0.15">초등(9~13세)</text>
<text transform="translate(572.10 1393.49) scale(1.125 1)" font-size="11.64" font-weight="normal" fill="#3d2410" stroke="#3d2410" stroke-width="0.15">중등(14~16세)</text>
<text transform="translate(676.05 1394.49) scale(1.125 1)" font-size="11.64" font-weight="normal" fill="#3d2410" stroke="#3d2410" stroke-width="0.15">고등(17~18세)</text>
<text transform="translate(780.03 1394.49) scale(1.125 1)" font-size="11.64" font-weight="normal" fill="#3d2410" stroke="#3d2410" stroke-width="0.15">대학(20~24세)</text>
<text transform="translate(191.65 1418.69) scale(0.933 1)" font-size="13.19" font-weight="normal" fill="#2a1a08">남자</text>
<text transform="translate(239.13 1418.80) scale(0.912 1)" font-size="13.33" font-weight="normal" fill="#2a1a08">여자</text>
<text transform="translate(639.65 1416.13) scale(0.949 1)" font-size="12.97" font-weight="normal" fill="#2a1a08">남자</text>
<text transform="translate(686.81 1416.23) scale(0.939 1)" font-size="13.11" font-weight="normal" fill="#2a1a08">여자</text>
<text transform="translate(395.53 1472.03) scale(0.717 1)" font-size="26.67" font-weight="bold" fill="#3a3636" stroke="#3a3636" stroke-width="1.1">천안시청소년재단</text>
<text transform="translate(470.80 1482.94) scale(0.881 1)" font-size="5.63" font-weight="bold" fill="#3a3636">CHEONAN YOUTH FOUNDATION</text><!-- /TEXTSVG --></svg>
<!-- TEXTS -->
</body></html>
